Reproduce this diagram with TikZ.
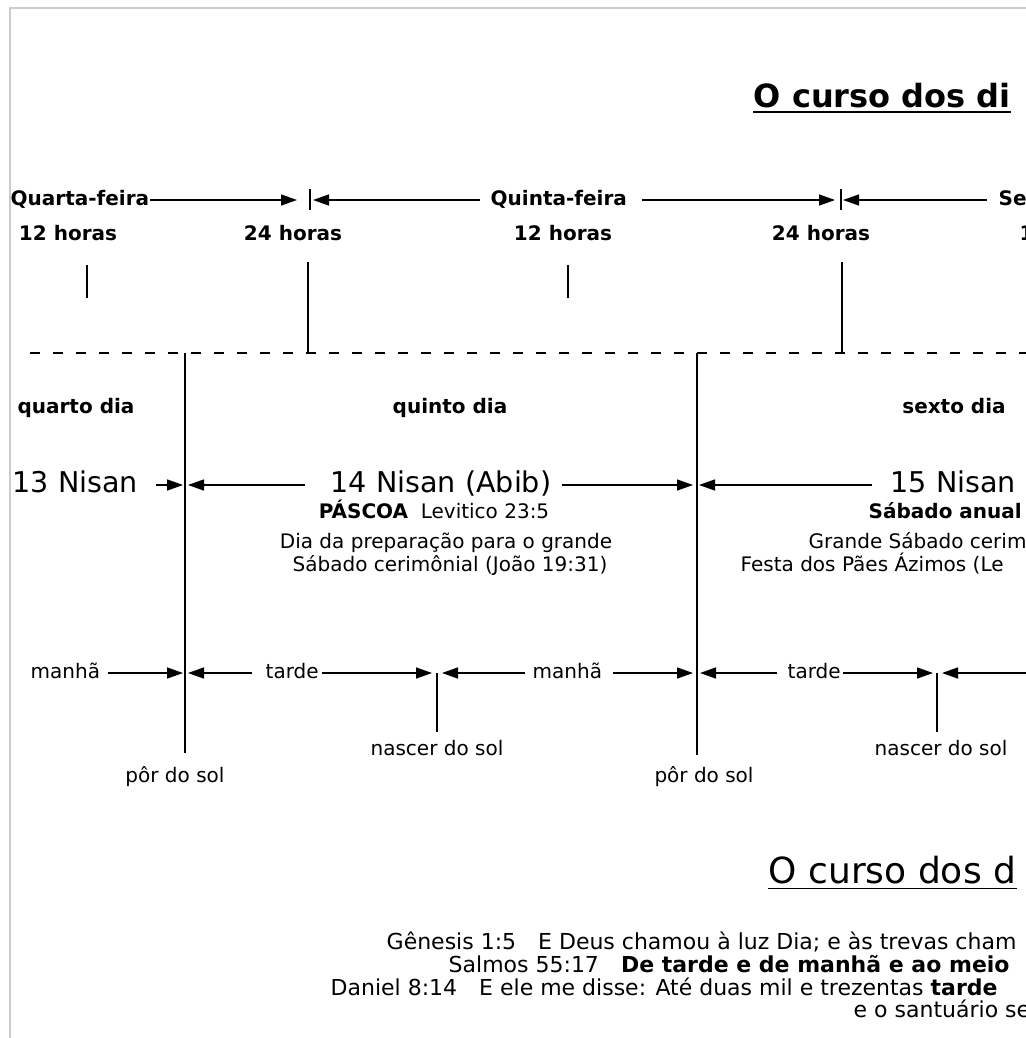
\documentclass[tikz,border=0pt]{standalone}
\usepackage{fontspec}
\setmainfont{DejaVu Sans}
\usetikzlibrary{arrows.meta}

\tikzset{
	txt/.style={inner sep=0pt, text height=7.5pt, text depth=2pt, font=\fontsize{10}{12}\selectfont},
	bld/.style={txt, font=\fontsize{10}{12}\selectfont\bfseries},
	big/.style={inner sep=0pt, text height=10.5pt, text depth=3pt, font=\fontsize{14.3}{16}\selectfont},
	ref/.style={inner sep=0pt, text height=8pt, text depth=2.2pt, font=\fontsize{11}{13}\selectfont},
	ttl/.style={inner xsep=0pt, inner ysep=2pt, text depth=0pt, font=\fontsize{16}{18}\selectfont\bfseries},
	arr/.style={-{Triangle[length=8pt,width=5.5pt]}},
}

\begin{document}
\begin{tikzpicture}[x=0.5pt, y=-0.5pt, line width=0.7pt]
	\useasboundingbox (0,0) rectangle (1026,1038);
	\draw[black!20, line width=0.6pt] (10,1038) -- (10,8) -- (1026,8);
	
	\node[ttl, anchor=west] (ttl1) at (753,95) {O curso dos di};
	\draw (ttl1.south west) -- (ttl1.south east);
	
	% weekdays
	\node[bld, anchor=west] (qua) at (10,200) {Quarta-feira};
	\node[bld, anchor=west] (qui) at (490,200) {Quinta-feira};
	\node[bld, anchor=west] (sex) at (998,200) {Se};
	\coordinate (d1) at (310,200);
	\coordinate (d2) at (841,200);
	\draw ([yshift=5.5pt]d1) -- ([yshift=-5pt]d1);
	\draw ([yshift=5.5pt]d2) -- ([yshift=-5pt]d2);
	\draw[arr, shorten >=6.5pt] (qua.east |- d1) -- (d1);
	\draw[arr, shorten <=5pt, shorten >=1.5pt] (qui.west |- d1) -- (d1);
	\draw[arr, shorten <=7pt, shorten >=3pt] (qui.east |- d2) -- (d2);
	\draw[arr, shorten <=5.5pt, shorten >=1pt] (sex.west |- d2) -- (d2);
	
	\node[bld] (h1) at (68,235) {12 horas};
	\node[bld] (h2) at (293,235) {24 horas};
	\node[bld] (h3) at (563,235) {12 horas};
	\node[bld] (h4) at (821,235) {24 horas};
	\node[bld, anchor=west] (h5) at (1019,235) {1};
	\draw (87,265) -- (87,298);
	\draw (568,265) -- (568,298);
	\draw (308,262) -- (308,353);
	\draw (842,262) -- (842,353);
	
	\draw[dash pattern=on 5pt off 6.5pt] (30,353) -- (1026,353);
	\draw (185,353) -- (185,753);
	\draw (697,353) -- (697,755);
	
	% days
	\node[bld] (dia4) at (76,408) {quarto dia};
	\node[bld] (dia5) at (450,408) {quinto dia};
	\node[bld] (dia6) at (954,408) {sexto dia};
	
	\node[big, anchor=west] (n13) at (12,485) {13 Nisan};
	\node[big, anchor=west] (n14) at (330,485) {14 Nisan (Abib)};
	\node[big, anchor=west] (n15) at (890,485) {15 Nisan};
	\coordinate (b1) at (185,485);
	\coordinate (b2) at (697,485);
	\draw[arr, shorten <=8.5pt, shorten >=1pt] (n13.east |- b1) -- (b1);
	\draw[arr, shorten <=12.5pt, shorten >=1.5pt] (n14.west |- b1) -- (b1);
	\draw[arr, shorten <=5pt, shorten >=2pt] (n14.east |- b2) -- (b2);
	\draw[arr, shorten <=9pt, shorten >=1pt] (n15.west |- b2) -- (b2);
	
	\node[txt] (pas) at (434,513) {\textbf{PÁSCOA}\ \ Levitico 23:5};
	\node[txt] (prep) at (446,543) {Dia da preparação para o grande};
	\node[txt] (cer) at (450,566) {Sábado cerimônial (João 19:31)};
	\node[bld, anchor=west] (anu) at (868,513) {Sábado anual};
	\node[txt, anchor=west] (gra) at (808,543) {Grande Sábado cerim};
	\node[txt, anchor=west] (fes) at (740,566) {Festa dos Pães Ázimos (Le};
	
	% morning / evening
	\coordinate (p1) at (185,673);
	\coordinate (s1) at (437,673);
	\coordinate (p2) at (697,673);
	\coordinate (s2) at (937,673);
	\coordinate (e1) at (1026,673);
	\node[txt, anchor=west] (m1) at (30,673) {manhã};
	\node[txt, anchor=west] (t1) at (265,673) {tarde};
	\node[txt, anchor=west] (m2) at (532,673) {manhã};
	\node[txt, anchor=west] (t2) at (787,673) {tarde};
	\draw[arr, shorten <=3.5pt, shorten >=1pt] (m1.east |- p1) -- (p1);
	\draw[arr, shorten <=6.5pt, shorten >=1.5pt] (t1.west |- p1) -- (p1);
	\draw[arr, shorten <=1.5pt, shorten >=2.5pt] (t1.east |- s1) -- (s1);
	\draw[arr, shorten <=3.5pt, shorten >=2.5pt] (m2.west |- s1) -- (s1);
	\draw[arr, shorten <=5pt, shorten >=2pt] (m2.east |- p2) -- (p2);
	\draw[arr, shorten <=5pt, shorten >=1.5pt] (t2.west |- p2) -- (p2);
	\draw[arr, shorten <=1pt, shorten >=2pt] (t2.east |- s2) -- (s2);
	\draw[arr, shorten >=2.5pt] (e1) -- (s2);
	\draw (s1) -- ++(0,59);
	\draw (s2) -- ++(0,59);
	
	\node[txt] (ns1) at (437,750) {nascer do sol};
	\node[txt] (ps1) at (175,777) {pôr do sol};
	\node[txt] (ps2) at (704,777) {pôr do sol};
	\node[txt] (ns2) at (941,750) {nascer do sol};
	
	% second part
	\node[ttl, anchor=west, font=\fontsize{18}{20}\selectfont] (ttl2) at (768,870) {O curso dos d};
	\draw (ttl2.south west) -- (ttl2.south east);
	
	\node[ref, anchor=west] (gen) at (386,944) {Gênesis 1:5\quad E Deus chamou à luz Dia; e às trevas cham};
	\node[ref, anchor=west] (sal) at (448,967) {Salmos 55:17\quad \textbf{De tarde e de manhã e ao meio}};
	\node[ref, anchor=west] (dan) at (330,990) {Daniel 8:14\quad E ele me disse: Até duas mil e trezentas \textbf{tarde}};
	\node[ref, anchor=west] (san) at (853,1012) {e o santuário se};
\end{tikzpicture}
\end{document}
